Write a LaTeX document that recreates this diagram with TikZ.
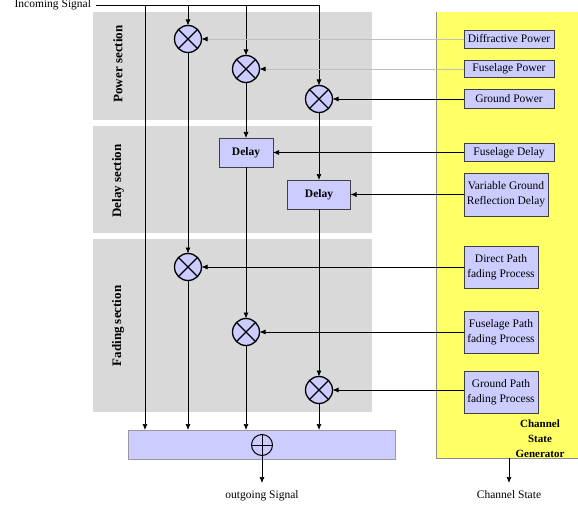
\documentclass[tikz,border=0pt]{standalone}
\usepackage{fontspec}
\setmainfont{Liberation Serif}
\usetikzlibrary{arrows.meta,calc}
\definecolor{lav}{RGB}{204,204,255}
\definecolor{panelgray}{RGB}{217,217,217}
\definecolor{ylw}{RGB}{255,255,102}
\begin{document}
\begin{tikzpicture}[x=1pt,y=-1pt,
  every node/.style={inner sep=0pt,outer sep=0pt},
  txt/.style={font=\fontsize{11.5}{14.5}\selectfont},
  sect/.style={fill=panelgray,draw=none},
  sectlabel/.style={rotate=90,font=\bfseries\fontsize{13}{15}\selectfont},
  mult/.style={circle,draw,line width=1.3pt,fill=lav,minimum size=27pt},
  src/.style={draw=black!75,line width=0.6pt,fill=lav,align=center,txt},
  dly/.style={draw=black!75,line width=0.6pt,fill=lav,font=\bfseries\fontsize{11.5}{13}\selectfont},
  arr/.style={-{Latex[length=6pt,width=5pt]},line width=0.7pt},
  garr/.style={-{Latex[length=6pt,width=5pt,color=black]},line width=0.7pt,draw=black!25},
  ln/.style={line width=0.7pt}]
\useasboundingbox (0,0) rectangle (578,508);
% section panels
\node[sect,minimum width=279pt,minimum height=108pt] (ps) at (232.5,66) {};
\node[sect,minimum width=279pt,minimum height=107pt] (ds) at (232.5,179.5) {};
\node[sect,minimum width=279pt,minimum height=173pt] (fs) at (232.5,325.5) {};
\node[sectlabel] (psl) at (118,64) {Power section};
\node[sectlabel] (dsl) at (118,181) {Delay section};
\node[sectlabel] (fsl) at (118,326) {Fading section};
% channel state generator panel
\node[fill=ylw,minimum width=142pt,minimum height=446pt] (csg) at (507,235) {};
\draw[black!45,line width=0.8pt] (csg.north west) -- (csg.south west) -- (csg.south east);
\node[align=center,font=\bfseries\fontsize{11}{15}\selectfont] (csgl) at (540,439) {Channel\\State\\Generator};
% source boxes
\node[src,minimum width=90pt,minimum height=18pt] (dp) at (509,39) {Diffractive Power};
\node[src,minimum width=90pt,minimum height=17pt] (fp) at (509,69) {Fuselage Power};
\node[src,minimum width=90pt,minimum height=19pt] (gp) at (509,99) {Ground Power};
\node[src,minimum width=90pt,minimum height=18pt] (fd) at (509,152.5) {Fuselage Delay};
\node[src,minimum width=84pt,minimum height=43pt] (vg) at (506,194.5) {Variable Ground\\Reflection Delay};
\node[src,minimum width=74pt,minimum height=42pt] (dpf) at (501,267) {Direct Path\\fading Process};
\node[src,minimum width=74pt,minimum height=42pt] (fpf) at (501,332) {Fuselage Path\\fading Process};
\node[src,minimum width=74pt,minimum height=42pt] (gpf) at (501,392) {Ground Path\\fading Process};
% multipliers and delays
\node[mult] (m1) at (188,39) {};
\node[mult] (m2) at (246,69) {};
\node[mult] (m3) at (319,99) {};
\node[mult] (f1) at (188,267) {};
\node[mult] (f2) at (246,332) {};
\node[mult] (f3) at (319,390) {};
\foreach \m in {m1,m2,m3,f1,f2,f3}{
  \draw[line width=1.3pt] (\m.45) -- (\m.225) (\m.135) -- (\m.315);
}
\node[dly,minimum width=54pt,minimum height=29pt] (d1) at (246,152.5) {Delay};
\node[dly,minimum width=63pt,minimum height=29pt] (d2) at (319,194.5) {Delay};
% sum box
\node[fill=lav,draw=black!40,line width=0.6pt,minimum width=267pt,minimum height=29pt] (sum) at (261.5,444.5) {};
\node[circle,draw,line width=1pt,minimum size=21pt] (op) at (262,445) {};
\draw[line width=1pt] (op.north) -- (op.south) (op.west) -- (op.east);
% texts
\node[txt,anchor=east] (inc) at (91,5) {Incoming Signal};
\node[txt] (outs) at (262,496) {outgoing Signal};
\node[txt] (chs) at (509,495) {Channel State};
\coordinate (in0) at (96,5);
\coordinate (t1) at (145,5);
\coordinate (t2) at (188,5);
\coordinate (t3) at (246,5);
\coordinate (t4) at (319,5);
\coordinate (oe) at (262,483);
\coordinate (ce) at (509,483);
% flow
\draw[ln] (in0) -- (t4);
\draw[arr] (t1) -- (t1 |- sum.north);
\draw[arr] (t2) -- (m1);
\draw[arr] (t3) -- (m2);
\draw[arr] (t4) -- (m3);
\draw[arr] (m1) -- (f1);
\draw[arr] (m2) -- (d1);
\draw[arr] (d1) -- (f2);
\draw[arr] (m3) -- (d2);
\draw[arr] (d2) -- (f3);
\draw[arr] (f1) -- (f1 |- sum.north);
\draw[arr] (f2) -- (f2 |- sum.north);
\draw[arr] (f3) -- (f3 |- sum.north);
\draw[arr] (op) -- (oe);
\draw[arr] (ce |- csg.south) -- (ce);
% control inputs
\draw[garr] (dp.west |- m1) -- (m1);
\draw[garr] (fp.west |- m2) -- (m2);
\draw[arr] (gp.west |- m3) -- (m3);
\draw[arr] (fd.west |- d1) -- (d1);
\draw[arr] (vg.west |- d2) -- (d2);
\draw[arr] (dpf.west |- f1) -- (f1);
\draw[arr] (fpf.west |- f2) -- (f2);
\draw[arr] (gpf.west |- f3) -- (f3);
\end{tikzpicture}
\end{document}
